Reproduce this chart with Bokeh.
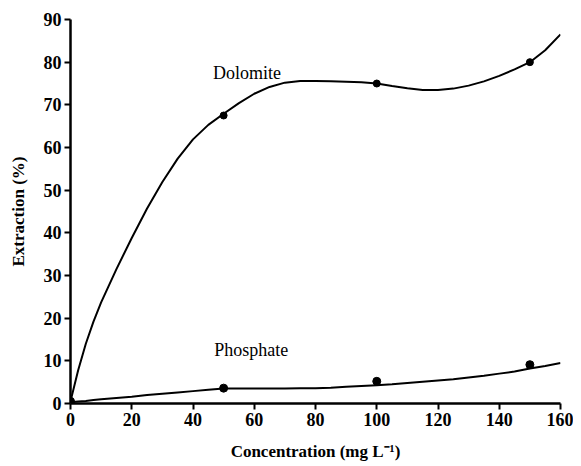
from bokeh.plotting import figure
from bokeh.models import Range1d, FixedTicker, Label
from bokeh.embed import file_html
from bokeh.resources import INLINE

# measured points
conc = [0, 50, 100, 150]
dolomite_pts = [0.5, 67.5, 75.0, 80.0]
phosphate_pts = [0.5, 3.6, 5.2, 9.1]

# fitted curves
curve_x = [0, 2.5, 5, 7.5, 10, 15, 20, 25, 30, 35, 40, 45, 50, 55, 60, 65, 70, 75, 80,
           85, 90, 95, 100, 105, 110, 115, 120, 125, 130, 135, 140, 145, 150, 155, 160]
dolomite_curve = [0.5, 7.8, 14.0, 19.2, 23.7, 31.5, 38.8, 45.7, 51.9, 57.4, 61.9, 65.3, 67.9,
                  70.4, 72.6, 74.2, 75.2, 75.6, 75.6, 75.5, 75.4, 75.3, 75.0, 74.4,
                  73.9, 73.5, 73.5, 73.8, 74.5, 75.5, 76.8, 78.3, 80.0, 82.8, 86.5]
phosphate_curve = [0.3, 0.45, 0.6, 0.8, 1.0, 1.3, 1.6, 2.0, 2.3, 2.6, 2.9, 3.2, 3.5, 3.5,
                   3.5, 3.5, 3.5, 3.6, 3.6, 3.7, 3.9, 4.1, 4.3, 4.5, 4.8, 5.1,
                   5.4, 5.7, 6.1, 6.5, 7.0, 7.5, 8.2, 8.8, 9.5]

x_ticks = [0, 20, 40, 60, 80, 100, 120, 140, 160]
y_ticks = [0, 10, 20, 30, 40, 50, 60, 70, 80, 90]

FONT = "Liberation Serif"

p = figure(width=573, height=466, output_backend="svg", toolbar_location=None,
           x_range=Range1d(0, 160), y_range=Range1d(0, 90),
           min_border_left=70, min_border_right=13, min_border_top=19,
           min_border_bottom=63)
p.outline_line_color = None
p.xgrid.visible = False
p.ygrid.visible = False

p.line(curve_x, dolomite_curve, line_color="black", line_width=2)
p.line(curve_x, phosphate_curve, line_color="black", line_width=2)
p.scatter(conc, dolomite_pts, size=7, color="black")
p.scatter(conc, phosphate_pts, size=8, color="black")

p.add_layout(Label(x=57.6, y=77.4, text="Dolomite", text_font=FONT,
                   text_font_size="18px", text_font_style="normal",
                   text_align="center", text_baseline="middle",
                   text_color="#000000"))
p.add_layout(Label(x=59, y=12.5, text="Phosphate", text_font=FONT,
                   text_font_size="18px", text_font_style="normal",
                   text_align="center", text_baseline="middle",
                   text_color="#000000"))

for ax in (p.xaxis[0], p.yaxis[0]):
    ax.axis_line_width = 2.5
    ax.axis_line_color = "black"
    ax.major_tick_line_width = 2
    ax.major_tick_line_color = "black"
    ax.major_tick_out = 6
    ax.major_tick_in = 0
    ax.minor_tick_line_color = None
    ax.major_label_text_font = FONT
    ax.major_label_text_font_style = "bold"
    ax.major_label_text_font_size = "18px"
    ax.major_label_text_color = "#000000"
    ax.axis_label_text_font = FONT
    ax.axis_label_text_font_style = "bold"
    ax.axis_label_text_font_size = "17px"
    ax.axis_label_text_color = "#000000"

p.xaxis[0].ticker = FixedTicker(ticks=x_ticks)
p.yaxis[0].ticker = FixedTicker(ticks=y_ticks)
p.xaxis[0].major_label_standoff = 3
p.yaxis[0].major_label_standoff = 3
p.xaxis[0].axis_label = "Concentration (mg L\u207b\u00b9)"
p.yaxis[0].axis_label = "Extraction (%)"
p.xaxis[0].axis_label_standoff = 13
p.yaxis[0].axis_label_standoff = 13

open("out.html", "w").write(file_html(p, INLINE))
